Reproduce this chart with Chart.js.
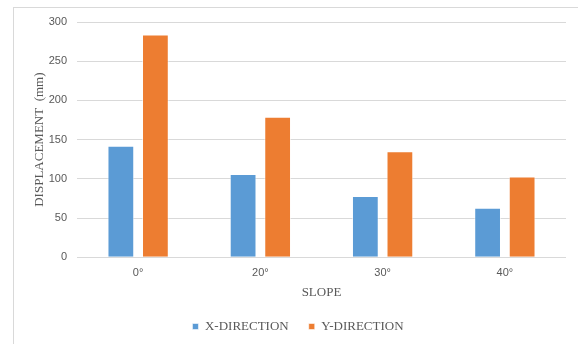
<!DOCTYPE html>
<html>
<head>
<meta charset="utf-8">
<script src="https://cdn.jsdelivr.net/npm/chart.js@4"></script>
<style>
  html, body { margin: 0; padding: 0; background: #fff; }
  #wrap { position: relative; width: 578px; height: 344px; overflow: hidden; background: #fff; }
  #frame { position: absolute; left: 13px; top: 7px; width: 700px; height: 500px;
           border-left: 1px solid #d9d9d9; border-top: 1px solid #d9d9d9; }
  #chart { position: absolute; left: 0; top: 0; }
</style>
</head>
<body>
<div id="wrap">
  <div id="frame"></div>
  <canvas id="chart" width="578" height="344"></canvas>
</div>
<script>
// Displacement per slope angle
const slopes = ['0°', '20°', '30°', '40°'];
const xDirection = [142, 106, 78, 63];
const yDirection = [284, 179, 135, 103];

const textGrey = '#595959';
const serif = '"Liberation Serif", "Times New Roman", serif';
const sans = '"Liberation Sans", Arial, sans-serif';

const ctx = document.getElementById('chart').getContext('2d');
new Chart(ctx, {
    type: 'bar',
    data: {
        labels: slopes,
        datasets: [
            { label: 'X-DIRECTION', data: xDirection, backgroundColor: '#5b9bd5',
              borderColor: 'rgba(255,255,255,0.55)', borderWidth: 1 },
            { label: 'Y-DIRECTION', data: yDirection, backgroundColor: '#ed7d31',
              borderColor: 'rgba(255,255,255,0.55)', borderWidth: 1 }
        ]
    },
    options: {
        responsive: false,
        animation: false,
        categoryPercentage: 0.565,
        barPercentage: 0.775,
        layout: { padding: { left: 30, right: 12, top: 22, bottom: 1 } },
        plugins: {
            tooltip: { enabled: false },
            legend: {
                position: 'bottom',
                labels: {
                    boxWidth: 6, boxHeight: 6, padding: 20,
                    color: textGrey,
                    font: { family: serif, size: 13 }
                }
            }
        },
        scales: {
            x: {
                grid: { display: false, drawTicks: false },
                border: { display: false },
                ticks: { color: textGrey, font: { family: sans, size: 11 }, padding: 9 },
                title: { display: true, text: 'SLOPE', color: textGrey,
                         font: { family: serif, size: 13 }, padding: { top: -4, bottom: 0 } }
            },
            y: {
                min: 0, max: 300,
                afterFit: (scale) => { scale.width = 47; },
                grid: { color: '#d9d9d9', drawTicks: false },
                border: { display: false },
                ticks: { stepSize: 50, color: textGrey, font: { family: sans, size: 11 }, padding: 10 },
                title: { display: true, text: 'DISPLACEMENT  (mm)', color: textGrey,
                         font: { family: serif, size: 13 }, padding: { top: 2, bottom: 0 } }
            }
        }
    }
});
</script>
</body>
</html>
